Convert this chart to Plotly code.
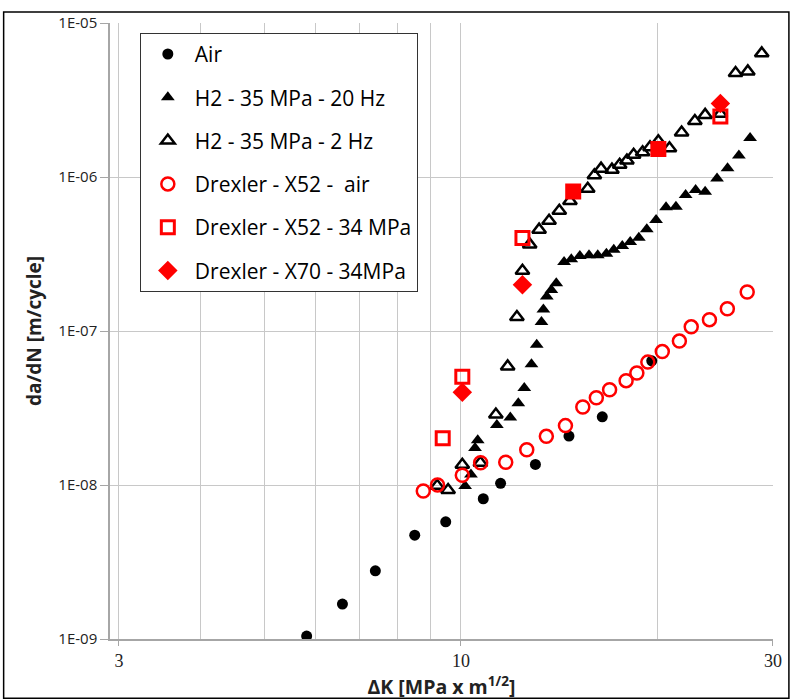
import plotly.graph_objects as go

# ---- data (ΔK in MPa*m^0.5, da/dN in m/cycle) ----
air_dk = [5.81, 6.59, 7.40, 8.50, 9.48, 10.82, 11.50, 13.00, 14.63, 16.45, 19.58]
air_da = [1.045e-9, 1.685e-9, 2.77e-9, 4.72e-9, 5.77e-9, 8.14e-9, 1.026e-8, 1.359e-8, 2.08e-8, 2.77e-8, 6.40e-8]

h20_dk = [10.15, 10.36, 10.51, 10.61, 11.35, 11.90, 12.24, 12.50, 12.82, 13.06, 13.28, 13.37,
          13.53, 13.75, 13.99, 14.38, 14.75, 15.20, 15.70, 16.19, 16.69, 17.13, 17.65, 18.15,
          18.71, 19.24, 19.88, 20.59, 21.32, 22.06, 22.85, 23.63, 24.64, 25.57, 26.61, 27.68]
h20_da = [9.85e-9, 1.169e-8, 1.742e-8, 1.952e-8, 2.448e-8, 2.743e-8, 3.39e-8, 4.26e-8, 6.09e-8, 8.15e-8, 1.146e-7, 1.380e-7,
          1.673e-7, 1.847e-7, 2.04e-7, 2.81e-7, 2.92e-7, 3.07e-7, 3.10e-7, 3.10e-7, 3.18e-7, 3.37e-7, 3.56e-7, 3.79e-7,
          4.03e-7, 4.57e-7, 5.25e-7, 6.37e-7, 6.42e-7, 7.64e-7, 8.22e-7, 8.02e-7, 9.77e-7, 1.138e-6, 1.379e-6, 1.792e-6]

h2_dk = [9.20, 9.56, 10.05, 10.71, 11.31, 11.79, 12.18, 12.42, 12.74, 13.17, 13.64, 14.14, 14.68,
         15.63, 16.00, 16.38, 17.02, 17.49, 17.94, 18.37, 18.96, 19.46, 20.04, 20.84, 21.75,
         22.79, 23.63, 24.93, 26.30, 27.46, 28.84]
h2_da = [9.89e-9, 9.28e-9, 1.355e-8, 1.396e-8, 2.87e-8, 5.89e-8, 1.234e-7, 2.46e-7, 3.65e-7, 4.55e-7, 5.20e-7, 6.03e-7, 6.99e-7,
         8.38e-7, 1.026e-6, 1.133e-6, 1.116e-6, 1.202e-6, 1.281e-6, 1.394e-6, 1.448e-6, 1.559e-6, 1.704e-6, 1.537e-6, 1.947e-6,
         2.31e-6, 2.53e-6, 2.57e-6, 4.73e-6, 4.85e-6, 6.35e-6]

x52air_dk = [8.76, 9.21, 10.05, 10.72, 11.71, 12.61, 13.51, 14.45, 15.36, 16.11, 16.88, 17.89, 18.58,
             19.31, 20.32, 21.58, 22.50, 23.99, 25.55, 27.40]
x52air_da = [9.15e-9, 9.99e-9, 1.158e-8, 1.396e-8, 1.404e-8, 1.692e-8, 2.07e-8, 2.43e-8, 3.21e-8, 3.69e-8, 4.15e-8, 4.76e-8, 5.34e-8,
             6.28e-8, 7.35e-8, 8.60e-8, 1.064e-7, 1.185e-7, 1.395e-7, 1.793e-7]

x52h_dk = [9.38, 10.05, 12.42, 14.85, 20.04, 24.93]
x52h_da = [2.01e-8, 5.05e-8, 4.02e-7, 8.05e-7, 1.52e-6, 2.47e-6]

x70_dk = [10.05, 12.42, 24.93]
x70_da = [4.0e-8, 2.0e-7, 3.0e-6]

x_ticks = [3, 10, 30]
x_minor = [4, 5, 6, 7, 8, 9, 20]
y_ticks = [1e-9, 1e-8, 1e-7, 1e-6, 1e-5]
y_labels = ["1E-09", "1E-08", "1E-07", "1E-06", "1E-05"]

RED = "#ff0000"
fig = go.Figure()
fig.add_trace(go.Scatter(x=air_dk, y=air_da, mode="markers", name="Air", legendgroup="a",
                         marker=dict(symbol="circle", size=11, color="black")))
fig.add_trace(go.Scatter(x=h20_dk, y=h20_da, mode="markers", name="H2 - 35 MPa - 20 Hz", legendgroup="b",
                         marker=dict(symbol="triangle-up", size=12, color="black")))
fig.add_trace(go.Scatter(x=h2_dk, y=h2_da, mode="markers", name="H2 - 35 MPa - 2 Hz", legendgroup="c",
                         marker=dict(symbol="triangle-up-open", size=12, color="black", line=dict(width=2.5))))
fig.add_trace(go.Scatter(x=x52air_dk, y=x52air_da, mode="markers", name="Drexler - X52 -  air", legendgroup="d",
                         marker=dict(symbol="circle-open", size=13, color=RED, line=dict(width=2.5))))
fig.add_trace(go.Scatter(x=x52h_dk, y=x52h_da, mode="markers", name="Drexler - X52 - 34 MPa", legendgroup="e",
                         marker=dict(symbol=["square-open", "square-open", "square-open", "square", "square", "square-open"],
                                     size=13, color=RED, line=dict(width=3, color=RED))))
fig.add_trace(go.Scatter(x=x70_dk, y=x70_da, mode="markers", name="Drexler - X70 - 34MPa", legendgroup="f",
                         marker=dict(symbol="diamond", size=15, color=RED)))

fig.update_xaxes(type="log", range=[0.4635, 1.4772], tickvals=x_ticks, ticktext=[str(v) for v in x_ticks],
                 tickfont=dict(family="Liberation Serif, serif", size=18, color="#222"),
                 showgrid=True, gridcolor="#c8c8c8", gridwidth=1,
                 minor=dict(tickvals=x_minor, showgrid=True, gridcolor="#c8c8c8", gridwidth=1, ticks=""),
                 showline=True, linecolor="#a6a6a6", linewidth=1.5, ticks="outside", ticklen=5, tickcolor="#a6a6a6",
                 zeroline=False,
                 title=dict(text="<b>ΔK [MPa x m<sup>1/2</sup>]</b>", font=dict(family="Open Sans, sans-serif", size=19.5, color="#222"),
                            standoff=1))
fig.update_yaxes(type="log", range=[-9, -5], tickvals=y_ticks, ticktext=y_labels,
                 tickfont=dict(family="Open Sans, sans-serif", size=15, color="#222"),
                 showgrid=True, gridcolor="#c8c8c8", gridwidth=1,
                 showline=True, linecolor="#a6a6a6", linewidth=1.5, ticks="outside", ticklen=8, tickcolor="#a6a6a6",
                 zeroline=False,
                 title=dict(text="<b>da/dN [m/cycle]</b>", font=dict(family="Open Sans, sans-serif", size=19, color="#222"),
                            standoff=12))

fig.update_layout(
    width=794, height=700,
    margin=dict(l=110, r=17, t=16, b=61),
    paper_bgcolor="white", plot_bgcolor="white",
    legend=dict(x=0.045, y=0.984, xanchor="left", yanchor="top",
                bgcolor="white", bordercolor="#333", borderwidth=1,
                font=dict(family="Open Sans, sans-serif", size=21, color="black"),
                tracegroupgap=13, itemwidth=44, entrywidth=250, entrywidthmode="pixels"),
    shapes=[dict(type="rect", xref="paper", yref="paper",
                 x0=(3 - 110) / 667, x1=(793 - 110) / 667,
                 y0=(639 - 699) / 623, y1=(639 - 5) / 623,
                 line=dict(color="black", width=1.5), fillcolor="rgba(0,0,0,0)", layer="below")],
)

fig.write_html("out.html", config={"displayModeBar": False},
               post_script="document.body.style.margin='0';document.body.style.overflow='hidden';")
